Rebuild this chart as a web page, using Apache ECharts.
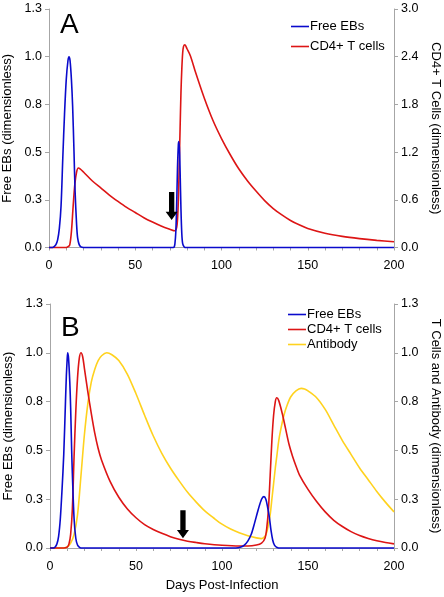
<!DOCTYPE html>
<html>
<head>
<meta charset="utf-8">
<script src="https://cdn.jsdelivr.net/npm/echarts@6/dist/echarts.min.js"></script>
<style>
html,body{margin:0;padding:0;background:#fff;}
#chart{width:444px;height:597px;}
</style>
</head>
<body>
<div id="chart"></div>
<script>
// ---------- Panel A data ----------
const ebsADays = [0,2,3,4,5,6,7,8,9,10,11,11.6,12.2,13,13.7,14.5,15.1,16,16.6,17.5,18.5,20,
  72,72.6,73,73.5,74,74.5,75,75.3,75.7,76,76.5,77,77.5,78.4,79.5,200];
const ebsAVals = [0,0,0.005,0.015,0.04,0.1,0.22,0.47,0.7,0.88,0.98,1.0,0.98,0.88,0.74,0.5,0.3,0.12,0.05,0.015,0.003,0,
  0,0.003,0.02,0.08,0.22,0.42,0.54,0.555,0.5,0.4,0.2,0.07,0.02,0.003,0,0];

const cd4ADays = [0,10,11,12,13,14,15,16,17,18,20,25,30,35,40,45,50,55,60,65,70,73,74,74.5,75,75.5,76,76.5,77,77.5,78,78.8,80,82,85,90,95,100,105,110,115,120,125,130,135,140,145,150,160,170,180,190,200];
const cd4AVals = [0,0,0.01,0.03,0.2,0.52,0.8,0.95,1.0,0.99,0.95,0.84,0.75,0.66,0.58,0.505,0.44,0.375,0.32,0.27,0.23,0.21,0.25,0.35,0.6,1.05,1.5,1.95,2.25,2.45,2.53,2.55,2.5,2.41,2.2,1.88,1.6,1.37,1.17,0.99,0.84,0.71,0.59,0.49,0.41,0.34,0.285,0.24,0.18,0.14,0.112,0.09,0.072];

// ---------- Panel B data ----------
const ebsBDays = [0,2,3,4,5,6,7,8,9,9.5,10,10.3,10.8,11.5,12,12.6,13,14,15,16,17,18,
  108,111,113,115,117,119,121,123,124.4,125.5,126.5,127.5,128.5,129.5,130.5,132,134,200];
const ebsBVals = [0,0,0.005,0.02,0.06,0.15,0.3,0.48,0.75,0.88,0.97,1.0,0.97,0.85,0.72,0.5,0.38,0.15,0.05,0.015,0.004,0,
  0,0.005,0.015,0.035,0.07,0.13,0.195,0.25,0.263,0.25,0.21,0.16,0.09,0.04,0.015,0.003,0,0];

const cd4BDays = [0,8,10,11,12,13,14,15,16,17,18,19,20,22,24,26,28,30,35,40,45,50,55,60,65,70,75,80,85,90,100,110,115,120,123,125,126,127,128,129,130,131,131.8,133,135,137,139,141,143,145,150,155,160,165,170,175,180,185,190,195,200];
const cd4BVals = [0,0,0.005,0.02,0.07,0.2,0.47,0.7,0.87,0.97,1.0,0.98,0.92,0.8,0.69,0.59,0.51,0.45,0.34,0.26,0.2,0.155,0.12,0.095,0.075,0.058,0.045,0.035,0.028,0.022,0.014,0.01,0.01,0.015,0.025,0.05,0.1,0.2,0.37,0.55,0.68,0.75,0.77,0.755,0.69,0.61,0.53,0.47,0.42,0.375,0.3,0.238,0.185,0.142,0.11,0.084,0.064,0.049,0.037,0.028,0.021];

const abBDays = [0,8,10,12,14,16,18,20,22,24,26,28,30,33,36,40,45,50,55,60,65,70,75,80,85,90,95,100,105,110,115,120,123,125,126,127,128,129,130,131,132,133,134,136,138,140,143,146,148,150,155,160,165,170,175,180,185,190,195,200];
const abBVals = [0,0,0.005,0.025,0.07,0.17,0.37,0.58,0.74,0.85,0.915,0.96,0.985,1.0,0.99,0.96,0.89,0.79,0.68,0.575,0.485,0.41,0.345,0.285,0.235,0.19,0.155,0.122,0.097,0.078,0.063,0.052,0.048,0.06,0.08,0.12,0.17,0.25,0.33,0.41,0.48,0.55,0.6,0.68,0.735,0.775,0.805,0.818,0.815,0.805,0.77,0.71,0.63,0.55,0.48,0.41,0.35,0.29,0.235,0.185];

// ---------- Axes / labels ----------
const xTickLabels = ['0','50','100','150','200'];
const leftTickLabels = ['0.0','0.3','0.5','0.8','1.0','1.3'];
const rightATickLabels = ['0.0','0.6','1.2','1.8','2.4','3.0'];
const rightBTickLabels = ['0.0','0.3','0.5','0.8','1.0','1.3'];
const seriesNames = ['Free EBs','CD4+ T cells','Antibody'];
// arrows: [day, value on left axis]
const arrowA = [71.1, 0.218];
const arrowB = [77.3, 0.122];

const zip = (xs, ys) => xs.map((x, i) => [x, ys[i]]);
const FONT = '"Liberation Sans", Arial, sans-serif';
const BLUE = '#0a0acc', RED = '#dd1515', YEL = '#ffd21e', AX = '#a6a6a6';
const arrowPath = 'path://M3.35,0 L8.65,0 L8.65,20 L12,20 L6,28.3 L0,20 L3.35,20 Z';

function xAxisCfg(gi, name) {
  return {
    type: 'value', gridIndex: gi, min: 0, max: 200, interval: 10,
    name: name || '', nameLocation: 'middle', nameGap: 31,
    nameTextStyle: {fontSize: 13, fontFamily: FONT, color: '#000'},
    axisLine: {lineStyle: {color: AX, width: 1}},
    axisTick: {length: 3, lineStyle: {color: AX}},
    axisLabel: {fontSize: 12.5, fontFamily: FONT, color: '#000', margin: 12,
      formatter: v => (v % 50 === 0 ? xTickLabels[v / 50] : '')},
    splitLine: {show: false}
  };
}
function yAxisCfg(gi, pos, max, interval, labels, name) {
  return {
    type: 'value', gridIndex: gi, position: pos, min: 0, max: max, interval: interval,
    name: name, nameLocation: 'middle', nameGap: pos === 'left' ? 27 : 28,
    nameRotate: pos === 'left' ? 90 : -90,
    nameTextStyle: {fontSize: 13, fontFamily: FONT, color: '#000'},
    axisLine: {show: true, lineStyle: {color: AX, width: 1}},
    axisTick: {show: true, length: 4, lineStyle: {color: AX}},
    axisLabel: {fontSize: 12.5, fontFamily: FONT, color: '#000', margin: 7,
      formatter: v => labels[Math.round(v / interval)]},
    splitLine: {show: false}
  };
}
function lineSeries(name, color, xi, yi, data, z) {
  return {
    type: 'line', name: name, xAxisIndex: xi, yAxisIndex: yi, data: data,
    showSymbol: false, smooth: 0.3, clip: false, z: z,
    lineStyle: {color: color, width: 1.6}, itemStyle: {color: color}
  };
}
function arrowMark(coord) {
  return {
    silent: true, symbol: arrowPath, symbolSize: [12, 28],
    itemStyle: {color: '#000'}, label: {show: false},
    data: [{coord: coord}]
  };
}

const chart = echarts.init(document.getElementById('chart'), null, {renderer: 'canvas'});
const legendText = {fontSize: 13, fontFamily: FONT, color: '#000', padding: [0, 0, 0, -4]};
chart.setOption({
  animation: false,
  backgroundColor: '#fff',
  title: [
    {text: 'A', left: 55, top: 6, textStyle: {fontSize: 28, fontWeight: 'normal', fontFamily: FONT, color: '#000'}},
    {text: 'B', left: 56, top: 309, textStyle: {fontSize: 28, fontWeight: 'normal', fontFamily: FONT, color: '#000'}}
  ],
  legend: [
    {data: seriesNames.slice(0, 2), orient: 'vertical', left: 286, top: 15, icon: 'rect',
      itemWidth: 18, itemHeight: 1.6, itemGap: 7, textStyle: legendText},
    {data: seriesNames.slice(0, 3), orient: 'vertical', left: 283, top: 303, icon: 'rect',
      itemWidth: 18, itemHeight: 1.6, itemGap: 2, textStyle: legendText}
  ],
  grid: [
    {left: 49, right: 50, top: 9, height: 238.5, outerBoundsMode: 'none', containLabel: false},
    {left: 50, right: 50, top: 304, height: 244, outerBoundsMode: 'none', containLabel: false}
  ],
  xAxis: [xAxisCfg(0), xAxisCfg(1, 'Days Post-Infection')],
  yAxis: [
    yAxisCfg(0, 'left', 1.25, 0.25, leftTickLabels, 'Free EBs (dimensionless)'),
    yAxisCfg(0, 'right', 3, 0.6, rightATickLabels, 'CD4+ T Cells (dimensionless)'),
    yAxisCfg(1, 'left', 1.25, 0.25, leftTickLabels, 'Free EBs (dimensionless)'),
    yAxisCfg(1, 'right', 1.25, 0.25, rightBTickLabels, 'T Cells and Antibody (dimensionless)')
  ],
  series: [
    lineSeries(seriesNames[1], RED, 0, 1, zip(cd4ADays, cd4AVals), 2),
    Object.assign(lineSeries(seriesNames[0], BLUE, 0, 0, zip(ebsADays, ebsAVals), 3), {markPoint: arrowMark(arrowA)}),
    lineSeries(seriesNames[2], YEL, 1, 3, zip(abBDays, abBVals), 2),
    lineSeries(seriesNames[1], RED, 1, 3, zip(cd4BDays, cd4BVals), 3),
    Object.assign(lineSeries(seriesNames[0], BLUE, 1, 2, zip(ebsBDays, ebsBVals), 4), {markPoint: arrowMark(arrowB)})
  ]
});
</script>
</body>
</html>
